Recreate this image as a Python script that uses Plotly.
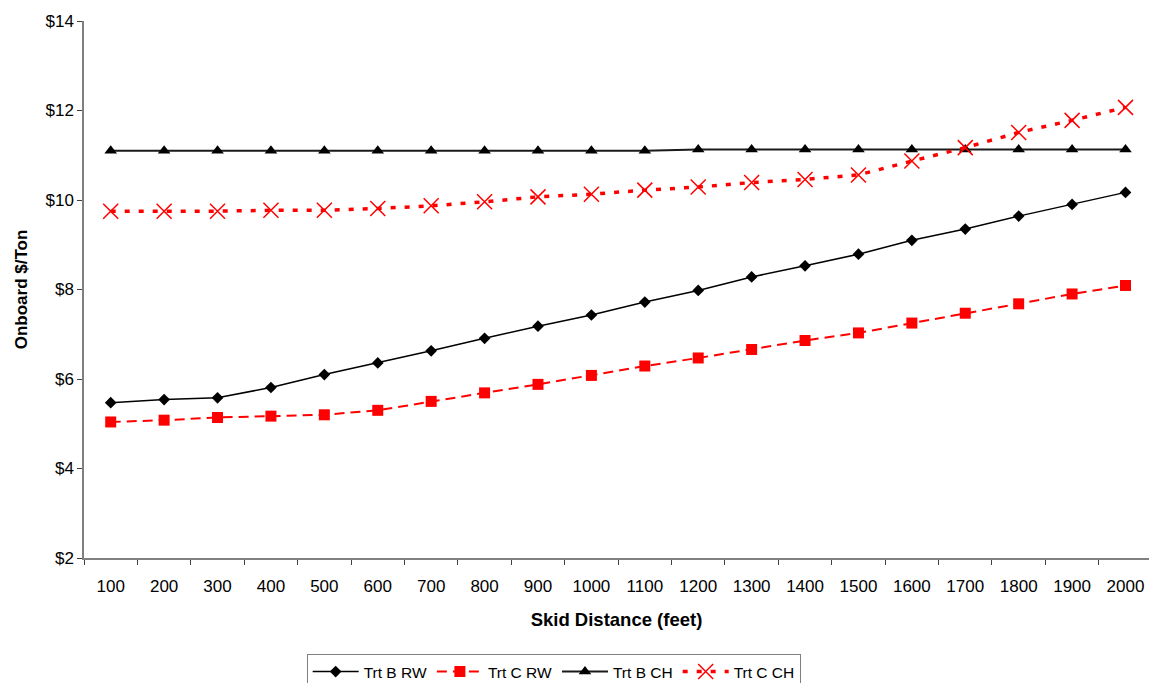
import plotly.graph_objects as go

# Skid distance categories (feet)
distances = ["100", "200", "300", "400", "500", "600", "700", "800", "900", "1000",
             "1100", "1200", "1300", "1400", "1500", "1600", "1700", "1800", "1900", "2000"]

# Onboard cost per ton for each treatment / system
trt_b_rw = [5.47, 5.54, 5.58, 5.81, 6.10, 6.36, 6.63, 6.91, 7.18, 7.43,
            7.72, 7.98, 8.28, 8.53, 8.79, 9.10, 9.35, 9.64, 9.90, 10.17]
trt_c_rw = [5.04, 5.08, 5.14, 5.17, 5.20, 5.30, 5.50, 5.69, 5.88, 6.08,
            6.29, 6.47, 6.66, 6.86, 7.03, 7.25, 7.47, 7.68, 7.90, 8.09]
trt_b_ch = [11.10, 11.10, 11.10, 11.10, 11.10, 11.10, 11.10, 11.10, 11.10, 11.10,
            11.10, 11.13, 11.13, 11.13, 11.13, 11.13, 11.13, 11.13, 11.13, 11.13]
trt_c_ch = [9.75, 9.75, 9.75, 9.77, 9.77, 9.81, 9.87, 9.96, 10.07, 10.13,
            10.22, 10.29, 10.39, 10.46, 10.56, 10.87, 11.17, 11.51, 11.78, 12.07]

y_ticks = [2, 4, 6, 8, 10, 12, 14]
y_tick_labels = ["$" + str(v) for v in y_ticks]

FONT = "Liberation Sans, Arial, sans-serif"

fig = go.Figure()

fig.add_trace(go.Scatter(
    x=distances, y=trt_b_rw, name="Trt B RW", mode="lines+markers",
    line=dict(color="black", width=1.5),
    marker=dict(symbol="diamond", size=9, color="black"),
))
fig.add_trace(go.Scatter(
    x=distances, y=trt_c_rw, name="Trt C RW", mode="lines+markers",
    line=dict(color="#ff0000", width=2, dash="10px,6px"),
    marker=dict(symbol="square", size=11, color="#ff0000"),
))
fig.add_trace(go.Scatter(
    x=distances, y=trt_b_ch, name="Trt B CH", mode="lines+markers",
    line=dict(color="#1a1a1a", width=2),
    marker=dict(symbol="triangle-up", size=11, color="black"),
))
fig.add_trace(go.Scatter(
    x=distances, y=trt_c_ch, name="Trt C CH", mode="lines+markers",
    line=dict(color="#ff0000", width=3.5, dash="5px,9px"),
    marker=dict(symbol="x-thin-open", size=15, color="#ff0000",
                line=dict(color="#ff0000", width=1.5)),
))

fig.update_layout(
    width=1149, height=683,
    margin=dict(l=84, r=0, t=21, b=125, autoexpand=False),
    paper_bgcolor="white", plot_bgcolor="white",
    font=dict(family=FONT, size=17, color="black"),
    showlegend=True,
    legend=dict(
        orientation="h", x=0.441, xanchor="center", y=-0.1788, yanchor="top",
        bordercolor="#808080", borderwidth=1, font=dict(family=FONT, size=15.5),
        itemwidth=46, tracegroupgap=0,
    ),
)

fig.update_xaxes(
    type="category", range=[-0.5, 19.44],
    showgrid=False, zeroline=False,
    showline=True, linecolor="#808080", linewidth=1.5,
    ticks="outside", tickson="boundaries", ticklen=5, tickcolor="#404040",
    ticklabelstandoff=12,
    tickfont=dict(family=FONT, size=17),
    title=dict(text="<b>Skid Distance (feet)</b>", font=dict(family=FONT, size=18.5), standoff=18),
)

fig.update_yaxes(
    range=[2, 14], tickvals=y_ticks, ticktext=y_tick_labels,
    showgrid=False, zeroline=False,
    showline=True, linecolor="#808080", linewidth=1.5,
    ticks="outside", ticklen=5, tickcolor="#404040",
    tickfont=dict(family=FONT, size=17),
    title=dict(text="<b>Onboard $/Ton</b>", font=dict(family=FONT, size=17), standoff=14),
)

fig.write_html("out.html")
